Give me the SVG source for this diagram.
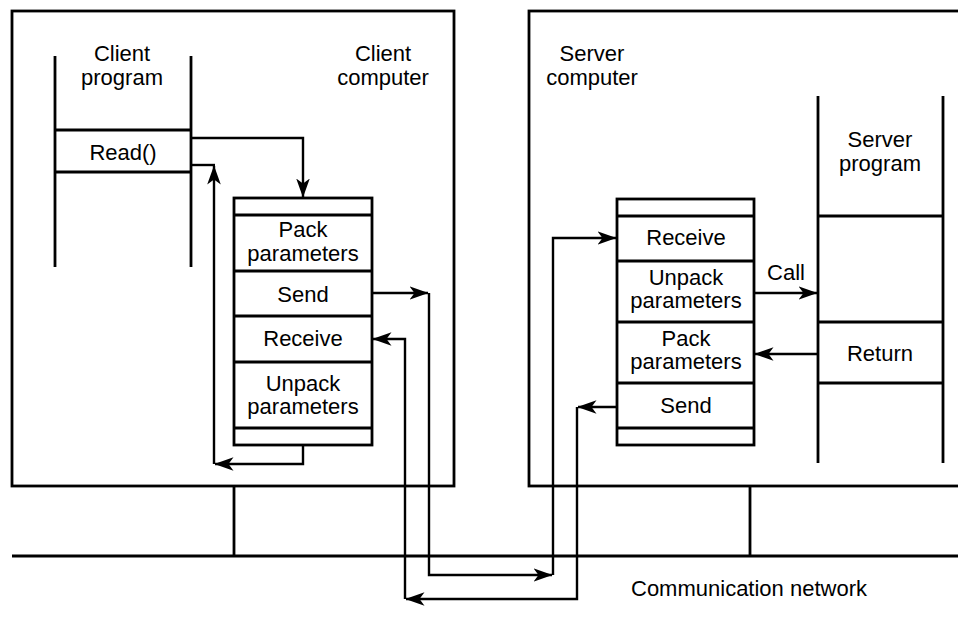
<svg xmlns="http://www.w3.org/2000/svg" width="958" height="617" viewBox="0 0 958 617">
<style>
.box{fill:none;stroke:#000;stroke-width:2.8}
.ln{fill:none;stroke:#000;stroke-width:2.8}
.ar{fill:none;stroke:#000;stroke-width:2.4;stroke-linejoin:miter}
text{font-family:"Liberation Sans",Arial,Helvetica,sans-serif;font-size:22px;fill:#000;text-anchor:middle}
</style>
<defs>
<marker id="ah" markerUnits="userSpaceOnUse" viewBox="0 -7 19 14" markerWidth="19" markerHeight="14" refX="18.5" refY="0" orient="auto">
<path d="M0,-6.8 L19,0 L0,6.8 L5,0 Z" fill="#000"/>
</marker>
</defs>
<rect width="958" height="617" fill="#fff"/>

<g id="network">
<line class="ln" x1="12" y1="556" x2="958" y2="556"/>
<line class="ln" x1="234" y1="486" x2="234" y2="556"/>
<line class="ln" x1="750" y1="486" x2="750" y2="556"/>
<text x="749" y="596">Communication network</text>
</g>

<g id="client-computer">
<rect class="box" x="12" y="11" width="442" height="475"/>
<text x="383" y="61">Client</text>
<text x="383" y="85">computer</text>
</g>

<g id="server-computer">
<rect class="box" x="529" y="11" width="440" height="475"/>
<text x="592" y="61">Server</text>
<text x="592" y="85">computer</text>
</g>

<g id="client-program">
<line class="ln" x1="55" y1="56" x2="55" y2="267"/>
<line class="ln" x1="191" y1="56" x2="191" y2="267"/>
<line class="ln" x1="55" y1="130" x2="191" y2="130"/>
<line class="ln" x1="55" y1="172" x2="191" y2="172"/>
<text x="122" y="61">Client</text>
<text x="122" y="85">program</text>
<text x="123" y="160">Read()</text>
</g>

<g id="client-stub">
<rect class="box" x="234" y="198" width="138" height="247"/>
<line class="ln" x1="234" y1="215" x2="372" y2="215"/>
<line class="ln" x1="234" y1="271" x2="372" y2="271"/>
<line class="ln" x1="234" y1="316" x2="372" y2="316"/>
<line class="ln" x1="234" y1="362" x2="372" y2="362"/>
<line class="ln" x1="234" y1="428" x2="372" y2="428"/>
<text x="303" y="237">Pack</text>
<text x="303" y="261">parameters</text>
<text x="303" y="302">Send</text>
<text x="303" y="346">Receive</text>
<text x="303" y="391">Unpack</text>
<text x="303" y="414">parameters</text>
</g>

<g id="server-stub">
<rect class="box" x="617" y="199" width="137" height="246"/>
<line class="ln" x1="617" y1="216" x2="754" y2="216"/>
<line class="ln" x1="617" y1="261" x2="754" y2="261"/>
<line class="ln" x1="617" y1="322" x2="754" y2="322"/>
<line class="ln" x1="617" y1="383" x2="754" y2="383"/>
<line class="ln" x1="617" y1="428" x2="754" y2="428"/>
<text x="686" y="245">Receive</text>
<text x="686" y="285">Unpack</text>
<text x="686" y="308">parameters</text>
<text x="686" y="346">Pack</text>
<text x="686" y="369">parameters</text>
<text x="686" y="413">Send</text>
</g>

<g id="server-program">
<line class="ln" x1="818" y1="96" x2="818" y2="463"/>
<line class="ln" x1="943" y1="96" x2="943" y2="463"/>
<line class="ln" x1="818" y1="216" x2="943" y2="216"/>
<line class="ln" x1="818" y1="322" x2="943" y2="322"/>
<line class="ln" x1="818" y1="383" x2="943" y2="383"/>
<text x="880" y="147">Server</text>
<text x="880" y="171">program</text>
<text x="880" y="361">Return</text>
</g>

<g id="connectors">
<path class="ar" d="M191,138 H303 V197" marker-end="url(#ah)"/>
<path class="ar" d="M303,445 V464 H215" marker-end="url(#ah)"/>
<path class="ar" d="M214,464 V166" marker-end="url(#ah)"/>
<path class="ar" d="M215,165 H191"/>
<path class="ar" d="M372,293 H428" marker-end="url(#ah)"/>
<path class="ar" d="M429,293 V575 H552" marker-end="url(#ah)"/>
<path class="ar" d="M553,575 V238 H616" marker-end="url(#ah)"/>
<path class="ar" d="M617,407 H578" marker-end="url(#ah)"/>
<path class="ar" d="M577,407 V599 H406" marker-end="url(#ah)"/>
<path class="ar" d="M405,599 V339 H373" marker-end="url(#ah)"/>
<path class="ar" d="M754,293 H817" marker-end="url(#ah)"/>
<path class="ar" d="M818,354 H755" marker-end="url(#ah)"/>
<text x="786" y="280">Call</text>
</g>
</svg>
